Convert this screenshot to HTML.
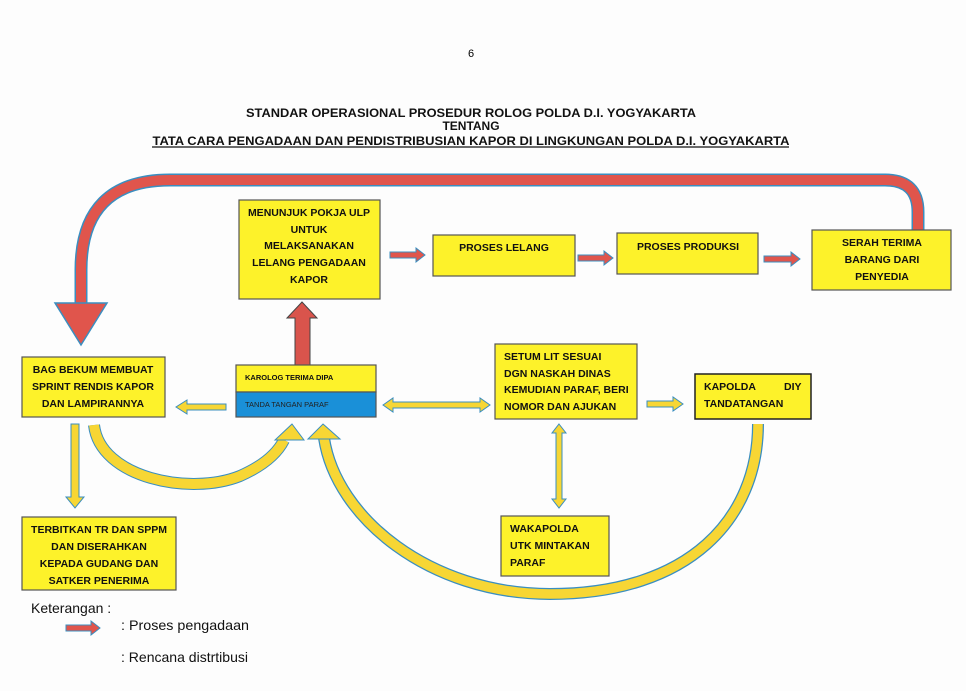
<!DOCTYPE html>
<html><head><meta charset="utf-8"><style>
html,body{margin:0;padding:0;background:#fdfdfd;}
svg{display:block;}
.b{font-family:"Liberation Sans",sans-serif;font-weight:bold;font-size:10.5px;fill:#111;}
.t{font-family:"Liberation Sans",sans-serif;font-weight:bold;font-size:12px;fill:#111;}
.box{fill:#fdf22a;stroke:#555;stroke-width:1.2;}
</style></head><body>
<svg width="966" height="691" viewBox="0 0 966 691" xmlns="http://www.w3.org/2000/svg">
<text x="471" y="57" font-family="Liberation Sans" font-size="11" text-anchor="middle">6</text>
<text class="t" x="471" y="117" text-anchor="middle" textLength="450" lengthAdjust="spacingAndGlyphs">STANDAR OPERASIONAL PROSEDUR ROLOG POLDA D.I. YOGYAKARTA</text>
<text class="t" x="471" y="130" text-anchor="middle">TENTANG</text>
<text class="t" x="471" y="145" text-anchor="middle" textLength="637" lengthAdjust="spacingAndGlyphs">TATA CARA PENGADAAN DAN PENDISTRIBUSIAN  KAPOR DI LINGKUNGAN POLDA D.I. YOGYAKARTA</text>
<line x1="152" y1="147" x2="789" y2="147" stroke="#111" stroke-width="1.2"/>

<path d="M918,230 L918,212 Q918,180 885,180 L170,180 Q81,180 81,270 L81,305" fill="none" stroke="#3a8ec0" stroke-width="13"/>
<path d="M918,230 L918,212 Q918,180 885,180 L170,180 Q81,180 81,270 L81,306" fill="none" stroke="#e0554c" stroke-width="10"/>
<polygon points="55,303 107,303 81,345" fill="#e0554c" stroke="#3a8ec0" stroke-width="1.5"/>

<polygon points="295,365 310,365 310,318 317,318 302,302 287,318 295,318" fill="#d9544c" stroke="#444" stroke-width="1"/>

<g fill="#e0554c" stroke="#3a8ec0" stroke-width="1">
<polygon points="390,252 416,252 416,248 425,255 416,262 416,258 390,258"/>
<polygon points="578,255 604,255 604,251 613,258 604,265 604,261 578,261"/>
<polygon points="764,256 791,256 791,252 800,259 791,266 791,262 764,262"/>
<polygon points="66,625 91,625 91,621 100,628 91,635 91,631 66,631"/>
</g>

<g fill="#f7d634" stroke="#3a8ec0" stroke-width="1">
<polygon points="226,404 187,404 187,400 176,407 187,414 187,410 226,410"/>
<polygon points="383,405 393,398 393,402 480,402 480,398 490,405 480,412 480,408 393,408 393,412"/>
<polygon points="647,401 673,401 673,397 683,404 673,411 673,407 647,407"/>
<polygon points="559,424 566,433 562,433 562,499 566,499 559,508 552,499 556,499 556,433 552,433"/>
<polygon points="71,424 79,424 79,497 84,497 75,508 66,497 71,497"/>
</g>
<path d="M94,425 C100,478 190,496 240,476 C265,465 278,452 284,440" fill="none" stroke="#3a8ec0" stroke-width="12"/>
<path d="M94,425 C100,478 190,496 240,476 C265,465 278,452 284,440" fill="none" stroke="#f7d634" stroke-width="10"/>
<polygon points="292,424 304,440 275,440" fill="#f7d634" stroke="#3a8ec0" stroke-width="1"/>
<path d="M324,438 C336,518 430,594 550,594 C690,594 758,518 758,424" fill="none" stroke="#3a8ec0" stroke-width="12"/>
<path d="M324,438 C336,518 430,594 550,594 C690,594 758,518 758,424" fill="none" stroke="#f7d634" stroke-width="9.5"/>
<polygon points="323,424 340,439 308,439" fill="#f7d634" stroke="#3a8ec0" stroke-width="1"/>

<rect class="box" x="239" y="200" width="141" height="99"/>
<g class="b" text-anchor="middle">
<text x="309" y="216">MENUNJUK POKJA ULP</text>
<text x="309" y="233">UNTUK</text>
<text x="309" y="249">MELAKSANAKAN</text>
<text x="309" y="266">LELANG PENGADAAN</text>
<text x="309" y="283">KAPOR</text>
</g>
<rect class="box" x="433" y="235" width="142" height="41"/>
<text class="b" x="504" y="251" text-anchor="middle">PROSES LELANG</text>
<rect class="box" x="617" y="233" width="141" height="41"/>
<text class="b" x="688" y="250" text-anchor="middle">PROSES PRODUKSI</text>
<rect class="box" x="812" y="230" width="139" height="60"/>
<g class="b" text-anchor="middle">
<text x="882" y="246">SERAH TERIMA</text>
<text x="882" y="263">BARANG DARI</text>
<text x="882" y="280">PENYEDIA</text>
</g>
<rect class="box" x="22" y="357" width="143" height="60"/>
<g class="b" text-anchor="middle">
<text x="93" y="373">BAG BEKUM MEMBUAT</text>
<text x="93" y="390">SPRINT RENDIS KAPOR</text>
<text x="93" y="407">DAN LAMPIRANNYA</text>
</g>
<rect x="236" y="365" width="140" height="27" fill="#fdf22a" stroke="#555" stroke-width="1.2"/>
<rect x="236" y="392" width="140" height="25" fill="#1a90d8" stroke="#555" stroke-width="1.2"/>
<text x="245" y="380" font-family="Liberation Sans" font-weight="bold" font-size="7.5" fill="#111">KAROLOG TERIMA DIPA</text>
<text x="245" y="407" font-family="Liberation Sans" font-size="7.5" fill="#222">TANDA TANGAN PARAF</text>
<rect class="box" x="495" y="344" width="142" height="75"/>
<g class="b">
<text x="504" y="360">SETUM  LIT  SESUAI</text>
<text x="504" y="377">DGN NASKAH DINAS</text>
<text x="504" y="393">KEMUDIAN PARAF, BERI</text>
<text x="504" y="410">NOMOR DAN AJUKAN</text>
</g>
<rect x="695" y="374" width="116" height="45" fill="#fdf22a" stroke="#222" stroke-width="1.5"/>
<g class="b">
<text x="704" y="390">KAPOLDA</text>
<text x="784" y="390">DIY</text>
<text x="704" y="407">TANDATANGAN</text>
</g>
<rect class="box" x="501" y="516" width="108" height="60"/>
<g class="b">
<text x="510" y="532">WAKAPOLDA</text>
<text x="510" y="549">UTK MINTAKAN</text>
<text x="510" y="566">PARAF</text>
</g>
<rect class="box" x="22" y="517" width="154" height="73"/>
<g class="b" text-anchor="middle">
<text x="99" y="533">TERBITKAN TR DAN SPPM</text>
<text x="99" y="550">DAN DISERAHKAN</text>
<text x="99" y="567">KEPADA GUDANG DAN</text>
<text x="99" y="584">SATKER PENERIMA</text>
</g>
<g font-family="Liberation Sans" font-size="14" fill="#111">
<text x="31" y="613">Keterangan :</text>
<text x="121" y="630" textLength="128" lengthAdjust="spacingAndGlyphs">: Proses  pengadaan</text>
<text x="121" y="662" textLength="127" lengthAdjust="spacingAndGlyphs">: Rencana distrtibusi</text>
</g>
</svg>
</body></html>
